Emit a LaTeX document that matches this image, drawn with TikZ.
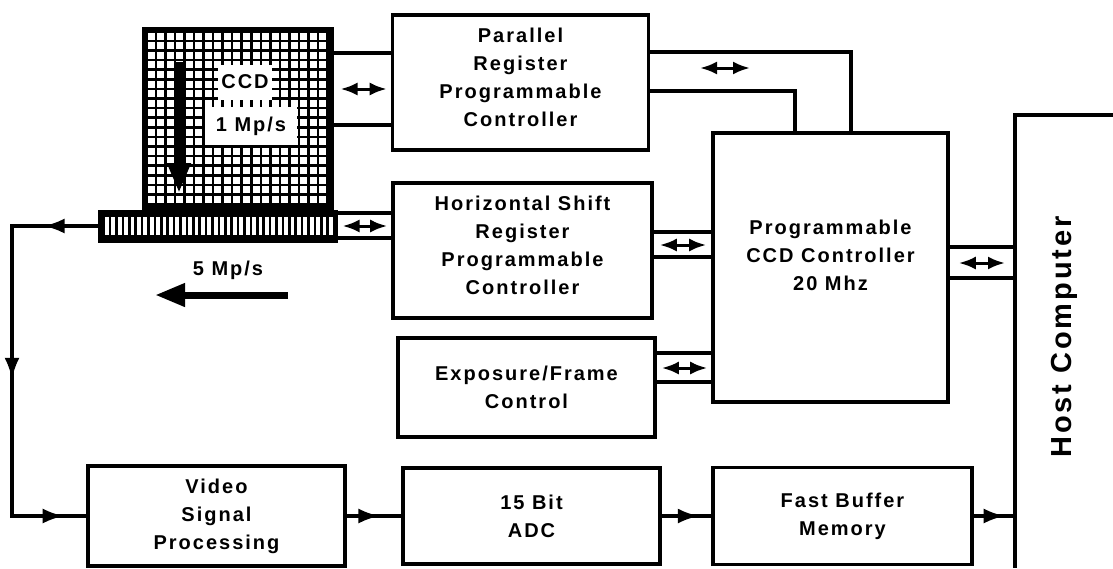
\documentclass[tikz,border=0pt]{standalone}
\usepackage{fontspec}
\setmainfont[LetterSpace=10]{Liberation Sans}
\usetikzlibrary{arrows.meta,decorations.markings}

\tikzset{
  block/.style = {draw, line width=3.6pt, align=center, text centered, inner sep=0pt,
                  font=\bfseries\fontsize{20}{28}\selectfont},
  sensor/.style = {draw, fill=black, line width=1pt, inner sep=0pt},
  tag/.style = {fill=white, inner sep=0pt, font=\bfseries\fontsize{20}{24}\selectfont},
  wire/.style = {line width=3.2pt},
  dbl/.style = {line width=3pt, {Latex[length=17pt,width=13pt]}-{Latex[length=17pt,width=13pt]}},
  flow/.style = {line width=3.2pt, postaction={decorate},
                 decoration={markings, mark=at position #1 with {\arrow{Latex[length=21pt,width=15pt]}}}},
  feedback/.style = {line width=3.2pt, postaction={decorate},
                 decoration={markings,
                   mark=at position 0.12 with {\arrow{Latex[length=21pt,width=15pt]}},
                   mark=at position 0.53 with {\arrow{Latex[length=21pt,width=15pt]}},
                   mark=at position 0.95 with {\arrow{Latex[length=21pt,width=15pt]}}}},
  bigarrow/.style = {line width=#1, -{Triangle[length=30pt,width=22pt]}}
}

\begin{document}
\begin{tikzpicture}[x=1pt, y=-1pt]
	\useasboundingbox (0,0) rectangle (1113,568);

	% CCD sensor and shift register
	\node [sensor, minimum width=191, minimum height=183] at (237.5, 118.5) (ccd) {};
	\foreach \i in {0,...,18}
		\foreach \j in {0,...,17}
			\fill [white] (147.5+\i*9.55, 32.5+\j*9.6) rectangle +(7,7);
	\node [sensor, minimum width=239, minimum height=32] at (217.5, 226) (hreg) {};
	\foreach \k in {0,...,35}
		\fill [white] (105+\k*6.4, 217) rectangle +(3.8,18);
	\node [tag, minimum width=54, minimum height=35] at (245, 82) (ccdtxt) {CCD};
	\node [tag, minimum width=92, minimum height=38] at (251, 126) (rate1) {1 Mp/s};
	\draw [bigarrow=9pt] (179, 62) -- (179, 193);
	\node [font=\bfseries\fontsize{20}{24}\selectfont] at (228, 270) (rate5) {5 Mp/s};
	\draw [bigarrow=7pt] (288, 295) -- (155, 295);

	% control blocks
	\node [block, minimum width=256, minimum height=135] at (520.5, 82.5) (par) {Parallel\\Register\\Programmable\\Controller\\[-18pt]};
	\node [block, minimum width=259, minimum height=135] at (522.5, 250.5) (hsr) {Horizontal Shift\\Register\\Programmable\\Controller\\[-18pt]};
	\node [block, minimum width=257, minimum height=99] at (526.5, 387.5) (expo) {Exposure/Frame\\Control};
	\node [block, minimum width=235, minimum height=269] at (830.5, 267.5) (ctrl) {Programmable\\CCD Controller\\20 Mhz\\[-4pt]};

	% signal chain
	\node [block, minimum width=257, minimum height=100] at (216.5, 516) (vsp) {Video\\Signal\\Processing};
	\node [block, minimum width=257, minimum height=96] at (531.5, 516) (adc) {15 Bit\\ADC};
	\node [block, minimum width=259, minimum height=97] at (842.5, 516) (fbm) {Fast Buffer\\Memory};

	% host computer
	\coordinate (htop) at (1015, 115);
	\coordinate (hbot) at (1015, 568);
	\coordinate (hend) at (1113, 115);
	\draw [wire] (hend) -- (htop) -- (hbot);
	\node [rotate=90, font=\bfseries\fontsize{29}{36}\selectfont] at (1064, 337) (host) {Host Computer};

	% buses
	\draw [wire] (ccd.east |- 0,53) -- (par.west |- 0,53);
	\draw [wire] (ccd.east |- 0,125) -- (par.west |- 0,125);
	\draw [dbl] ([xshift=7]ccd.east |- 0,89) -- ([xshift=-4]par.west |- 0,89);

	\draw [wire] (hreg.east |- 0,213) -- (hsr.west |- 0,213);
	\draw [wire] (hreg.east |- 0,238) -- (hsr.west |- 0,238);
	\draw [dbl] ([xshift=5]hreg.east |- 0,226) -- ([xshift=-4]hsr.west |- 0,226);

	\draw [wire] (par.east |- 0,52) -| ([xshift=20.5]ctrl.north);
	\draw [wire] (par.east |- 0,91) -| ([xshift=-35.5]ctrl.north);
	\draw [dbl] (700, 68) -- (750, 68);

	\draw [wire] (hsr.east |- 0,232) -- (ctrl.west |- 0,232);
	\draw [wire] (hsr.east |- 0,257) -- (ctrl.west |- 0,257);
	\draw [dbl] ([xshift=6]hsr.east |- 0,245) -- ([xshift=-5]ctrl.west |- 0,245);

	\draw [wire] (expo.east |- 0,353) -- (ctrl.west |- 0,353);
	\draw [wire] (expo.east |- 0,382) -- (ctrl.west |- 0,382);
	\draw [dbl] ([xshift=5]expo.east |- 0,368) -- ([xshift=-4]ctrl.west |- 0,368);

	\draw [wire] (ctrl.east |- 0,247) -- (htop |- 0,247);
	\draw [wire] (ctrl.east |- 0,278) -- (htop |- 0,278);
	\draw [dbl] ([xshift=9]ctrl.east |- 0,263) -- ([xshift=-10]htop |- 0,263);

	% video path
	\draw [feedback] (hreg.west) -- (12, 226) -- (12, 516) -- (vsp.west);
	\draw [flow=0.6] (vsp) -- (adc);
	\draw [flow=0.75] (adc) -- (fbm);
	\draw [flow=0.75] (fbm) -- (fbm -| htop);
\end{tikzpicture}
\end{document}
